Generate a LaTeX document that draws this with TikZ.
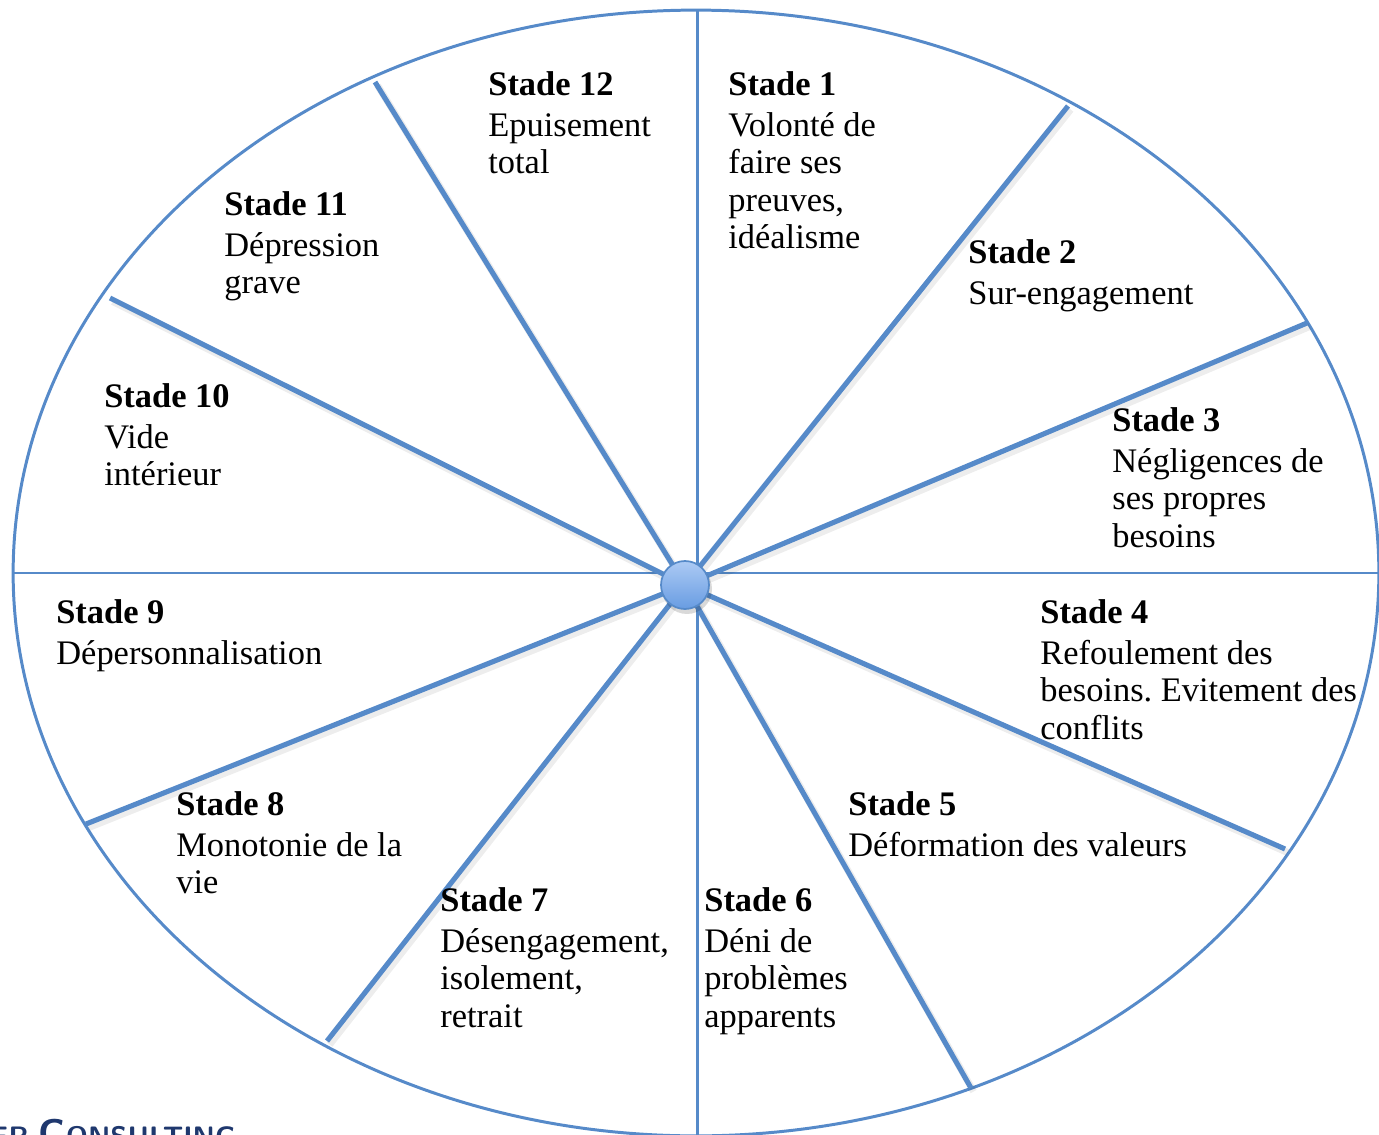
\documentclass[tikz,border=0pt]{standalone}
\usepackage{fontspec}
\usepackage{tikz}
\newfontfamily\stadefont{Liberation Serif}
\definecolor{spokeblue}{RGB}{86,138,201}
\definecolor{hubtop}{RGB}{172,202,244}
\definecolor{hubbottom}{RGB}{104,156,226}
\definecolor{logoblue}{RGB}{31,56,110}
\frenchspacing
\tikzset{
  rim/.style={draw=spokeblue,line width=1.7pt},
  spoke/.style={draw=spokeblue,line width=2.9pt},
  spokeshade/.style={draw=black,opacity=.07,line width=4pt},
  hubball/.style={circle,minimum size=0.96cm,inner sep=0pt,draw=spokeblue,line width=1pt,
    top color=hubtop,bottom color=hubbottom},
  hubshade/.style={circle,minimum size=1cm,inner sep=0pt,fill=black,opacity=.15},
  stade/.style={anchor=north west,inner sep=0pt,align=left,font=\stadefont\fontsize{19.6}{21.3}\selectfont},
  logo/.style={anchor=base east,inner sep=0pt,text=logoblue,font=\sffamily\bfseries},
}

\begin{document}
\begin{tikzpicture}[x=0.02cm,y=-0.02cm]
\useasboundingbox (0,0) rectangle (1379,1135);
\clip (0,0) rectangle (1379,1135);

% rim and the two axes
\draw[rim] (696,573) ellipse [x radius=13.66cm,y radius=11.26cm];
\coordinate (n) at (697,10);
\coordinate (s) at (697,1140);
\coordinate (w) at (13,573);
\coordinate (e) at (1385,573);
\draw[rim] (n) -- (s);
\draw[rim] (w) -- (e);

% spokes from the hub to the rim
\coordinate (hub) at (685,585);
\coordinate (ra) at (1068,106);
\coordinate (rb) at (1307,323);
\coordinate (rc) at (1285,849);
\coordinate (rd) at (971,1088);
\coordinate (re) at (327,1041);
\coordinate (rf) at (86,824);
\coordinate (rg) at (110,298);
\coordinate (rh) at (375,82);
\begin{scope}[transform canvas={shift={(1.5pt,-2pt)}}]
\foreach \k in {a,b,c,d,e,f,g,h}
  \draw[spokeshade] (hub) -- (r\k);
\end{scope}
\foreach \k in {a,b,c,d,e,f,g,h}
  \draw[spoke] (hub) -- (r\k);
\node[hubshade] (hubdrop) at (687,589) {};
\node[hubball] (hubnode) at (hub) {};

% stages
\node[stade] (st1) at (728,71) {\textbf{Stade 1}\\[2pt]Volont\'e de\\faire ses\\preuves,\\id\'ealisme};
\node[stade] (st2) at (968,239) {\textbf{Stade 2}\\[2pt]Sur-engagement};
\node[stade] (st3) at (1112,407) {\textbf{Stade 3}\\[2pt]N\'egligences de\\ses propres\\besoins};
\node[stade] (st4) at (1040,599) {\textbf{Stade 4}\\[2pt]Refoulement des\\besoins. Evitement des\\conflits};
\node[stade] (st5) at (848,791) {\textbf{Stade 5}\\[2pt]D\'eformation des valeurs};
\node[stade] (st6) at (704,887) {\textbf{Stade 6}\\[2pt]D\'eni de\\probl\`emes\\apparents};
\node[stade] (st7) at (440,887) {\textbf{Stade 7}\\[2pt]D\'esengagement,\\isolement,\\retrait};
\node[stade] (st8) at (176,791) {\textbf{Stade 8}\\[2pt]Monotonie de la\\vie};
\node[stade] (st9) at (56,599) {\textbf{Stade 9}\\[2pt]D\'epersonnalisation};
\node[stade] (st10) at (104,383) {\textbf{Stade 10}\\[2pt]Vide\\int\'erieur};
\node[stade] (st11) at (224,191) {\textbf{Stade 11}\\[2pt]D\'epression\\grave};
\node[stade] (st12) at (488,71) {\textbf{Stade 12}\\[2pt]Epuisement\\total};

% cut-off company name
\node[logo] (firm) at (236,1146) {\fontsize{16}{16}\selectfont ER \fontsize{22}{22}\selectfont C\fontsize{16}{16}\selectfont ONSULTING};
\end{tikzpicture}
\end{document}
